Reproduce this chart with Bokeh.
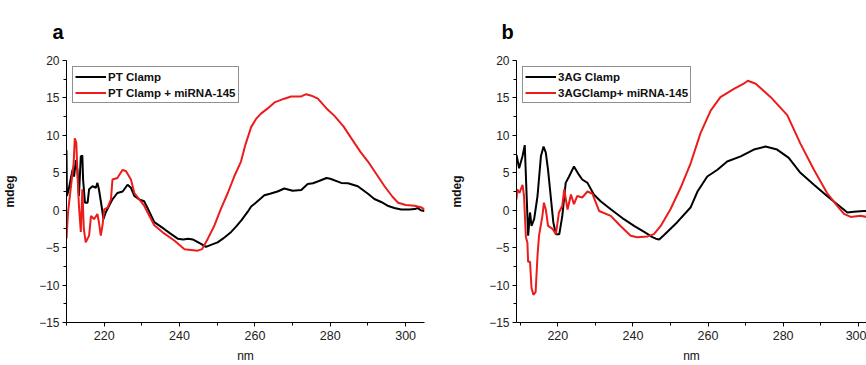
from bokeh.plotting import figure
from bokeh.layouts import row
from bokeh.models import Range1d, FixedTicker, Legend, LegendItem
from bokeh.embed import file_html
from bokeh.resources import INLINE

# ---------------- data ----------------
# Panel a
a_black_nm = [210.0, 210.1, 210.6, 211.6, 212.0, 212.5, 212.9, 213.3, 213.8, 214.2, 214.4, 214.9,
              215.6, 216.0, 216.9, 217.8, 218.2, 218.6, 219.3, 219.8, 220.4, 221.3, 222.2, 223.5,
              224.9, 226.2, 227.1, 228.0, 229.3, 230.6, 231.5, 233.3, 235.9, 237.5, 239.5, 241.0,
              242.3, 243.5, 245.7, 247.0, 248.5, 250.1, 251.5, 253.7, 255.0, 256.5, 258.1, 259.0,
              260.0, 261.6, 262.5, 264.0, 266.0, 267.8, 270.0, 272.3, 274.0, 275.4, 277.0, 279.0,
              280.0, 282.9, 284.7, 287.3, 290.0, 291.7, 293.5, 295.2, 297.0, 298.8, 301.0, 302.4,
              303.2, 304.0, 305.0]
a_black_v = [8.0, 1.9, 2.8, 5.4, 4.5, 6.7, 5.4, 1.9, 7.2, 7.3, 4.1, 1.0,
             1.0, 2.8, 3.2, 3.0, 3.65, 2.8, 0.6, -1.2, -0.3, 0.6, 1.45, 2.3,
             2.5, 3.4, 3.0, 1.9, 1.45, 1.2, 0.3, -1.6, -2.5, -3.1, -3.8, -3.9,
             -3.8, -3.9, -4.5, -4.9, -4.6, -4.3, -3.8, -2.9, -2.2, -1.3, -0.2, 0.5,
             0.9, 1.6, 2.0, 2.2, 2.5, 2.9, 2.6, 2.7, 3.5, 3.6, 3.9, 4.3,
             4.2, 3.65, 3.6, 3.2, 2.2, 1.5, 1.1, 0.6, 0.3, 0.1, 0.1, 0.15,
             0.3, 0.0, -0.1]

a_red_nm = [210.0, 210.4, 211.1, 211.9, 212.2, 212.6, 212.9, 213.3, 213.8, 214.2, 214.6, 215.1,
            216.0, 216.5, 217.3, 218.2, 218.6, 219.1, 219.6, 220.0, 220.9, 221.8, 222.2, 223.5,
            224.9, 225.8, 227.1, 228.0, 229.3, 230.6, 233.3, 235.9, 238.6, 241.3, 244.8, 246.0,
            247.5, 249.2, 251.0, 252.8, 254.5, 256.3, 257.5, 259.0, 260.3, 261.6, 263.4, 265.2,
            267.8, 269.6, 272.3, 273.6, 275.0, 276.7, 279.0, 281.1, 283.5, 285.6, 288.0, 290.0,
            292.0, 294.4, 296.5, 298.0, 300.0, 302.4, 304.0, 305.0]
a_red_v = [-3.8, -0.3, 2.8, 6.3, 9.6, 9.0, 5.0, 0.6, -2.9, 2.8, -2.5, -4.3,
           -3.4, -0.75, -1.2, -0.5, -1.6, -3.4, -1.85, 0.1, 0.35, 1.45, 4.1, 4.3,
           5.4, 5.2, 4.1, 2.3, 1.45, 0.6, -2.0, -3.1, -4.05, -5.2, -5.4, -5.2,
           -3.8, -2.1, 0.2, 2.3, 4.5, 6.5, 8.8, 11.1, 12.2, 12.9, 13.6, 14.4,
           14.9, 15.2, 15.2, 15.5, 15.3, 14.9, 13.6, 12.6, 11.2, 9.6, 7.8, 6.5,
           5.0, 3.2, 1.8, 1.0, 0.7, 0.6, 0.4, 0.1]

# Panel b
b_black_nm = [209.0, 209.7, 210.6, 211.2, 211.7, 212.1, 212.6, 213.0, 213.7, 214.6, 215.5, 216.2,
              216.8, 217.4, 218.1, 218.8, 219.5, 220.4, 221.2, 222.1, 223.0, 224.3, 225.6, 226.5,
              227.9, 229.6, 231.4, 234.1, 237.6, 240.3, 243.0, 245.2, 246.1, 247.0, 248.3, 251.8,
              255.4, 257.2, 259.8, 262.5, 265.1, 268.7, 272.2, 275.3, 278.4, 281.5, 284.6, 288.2,
              291.7, 294.4, 297.1, 298.8, 301.5, 303.0]
b_black_v = [7.4, 5.6, 7.2, 8.7, 1.9, -3.4, -0.3, -2.1, -1.2, 1.9, 7.2, 8.5,
             7.7, 5.4, 1.9, -1.6, -3.2, -3.2, -0.75, 3.65, 4.5, 5.85, 4.75, 4.1,
             3.65, 2.1, 1.2, 0.13, -1.2, -2.1, -2.9, -3.6, -3.8, -3.9, -3.3, -1.6,
             0.4, 2.5, 4.5, 5.4, 6.5, 7.2, 8.1, 8.5, 8.1, 7.0, 5.0, 3.4,
             1.9, 0.8, -0.3, -0.2, -0.1, -0.1]

b_red_nm = [209.0, 209.2, 209.8, 210.6, 211.0, 211.5, 211.9, 212.1, 212.6, 213.0, 213.5, 214.1,
            214.6, 215.0, 215.9, 216.3, 216.8, 217.4, 218.6, 219.5, 220.3, 221.2, 221.7, 222.6,
            223.5, 224.3, 225.2, 226.5, 227.9, 229.2, 231.0, 234.1, 236.7, 239.4, 241.2, 243.9,
            245.6, 247.4, 250.0, 252.7, 255.4, 258.0, 260.7, 263.3, 266.9, 269.5, 270.6, 272.7,
            276.7, 281.1, 284.6, 288.2, 291.7, 294.4, 296.2, 298.0, 300.6, 302.2]
b_red_v = [1.45, 2.8, 2.3, 3.4, 1.9, -3.6, -4.3, -6.9, -6.9, -10.4, -11.3, -10.9,
           -6.0, -3.4, -0.75, 1.0, 0.1, -2.1, -2.5, -3.2, -0.3, 0.6, 2.8, 0.1,
           2.1, 0.8, 1.9, 1.7, 2.5, 2.2, -0.1, -0.75, -2.1, -3.4, -3.6, -3.5,
           -3.2, -2.1, 0.13, 3.0, 6.3, 10.3, 13.3, 15.1, 16.2, 16.9, 17.3, 16.9,
           15.1, 12.7, 8.9, 5.4, 2.3, 0.57, -0.5, -0.9, -0.75, -0.9]

y_ticks = [-15, -10, -5, 0, 5, 10, 15, 20]
y_minor = [-12.5, -7.5, -2.5, 2.5, 7.5, 12.5, 17.5]
x_ticks = [220, 240, 260, 280, 300]
x_minor = [210, 230, 250, 270, 290]

FONT = "Liberation Sans"
RED = "#ec1c1c"


def make_panel(letter, letter_offset, x_range, width, border_left, border_right,
               ylabel_standoff, black_nm, black_v, red_nm, red_v, lab_black, lab_red):
    p = figure(width=width, height=365, output_backend="svg", toolbar_location=None,
               x_range=Range1d(*x_range), y_range=Range1d(-15, 20),
               min_border_left=border_left, min_border_right=border_right,
               min_border_top=59, min_border_bottom=41)
    p.outline_line_color = None
    p.xgrid.visible = False
    p.ygrid.visible = False
    p.background_fill_color = "white"
    p.border_fill_color = "white"

    p.title.text = letter
    p.title.text_font = FONT
    p.title.text_font_size = "20px"
    p.title.text_font_style = "bold"
    p.title.text_color = "black"
    p.title.align = "left"
    p.title.offset = letter_offset
    p.title.standoff = 36

    r1 = p.line(black_nm, black_v, line_color="black", line_width=2)
    r2 = p.line(red_nm, red_v, line_color=RED, line_width=2)

    for ax in (p.xaxis[0], p.yaxis[0]):
        ax.axis_line_color = "black"
        ax.axis_line_width = 1
        ax.major_tick_line_color = "black"
        ax.minor_tick_line_color = "black"
        ax.major_tick_in = 0
        ax.major_tick_out = 4
        ax.minor_tick_in = 0
        ax.minor_tick_out = 3
        ax.major_label_text_font = FONT
        ax.major_label_text_color = "#222222"
        ax.axis_label_text_font = FONT
        ax.axis_label_text_color = "#111111"
        ax.axis_label_text_font_size = "12px"

    p.yaxis[0].major_label_text_font_size = "12px"
    p.xaxis[0].major_label_text_font_size = "12.5px"
    p.yaxis[0].ticker = FixedTicker(ticks=y_ticks, minor_ticks=y_minor)
    p.xaxis[0].ticker = FixedTicker(ticks=x_ticks, minor_ticks=x_minor)
    p.yaxis[0].major_label_standoff = 3
    p.xaxis[0].major_label_standoff = 4

    p.yaxis[0].axis_label = "mdeg"
    p.yaxis[0].axis_label_text_font_style = "bold"
    p.yaxis[0].axis_label_standoff = ylabel_standoff

    p.xaxis[0].axis_label = "nm"
    p.xaxis[0].axis_label_text_font_style = "normal"
    p.xaxis[0].axis_label_standoff = 6

    legend = Legend(items=[LegendItem(label=lab_black, renderers=[r1]),
                           LegendItem(label=lab_red, renderers=[r2])],
                    location="top_left", orientation="vertical")
    legend.border_line_color = "#222222"
    legend.border_line_width = 1
    legend.background_fill_color = "white"
    legend.background_fill_alpha = 1
    legend.label_text_font = FONT
    legend.label_text_font_size = "11.5px"
    legend.label_text_font_style = "bold"
    legend.label_text_color = "#111111"
    legend.glyph_width = 31
    legend.glyph_height = 15
    legend.label_height = 15
    legend.label_standoff = 2
    legend.padding = 2
    legend.spacing = 1
    legend.margin = 6
    p.add_layout(legend, "center")
    return p


pa = make_panel("a", -14, (210, 305), 438, 66, 14, 19,
                a_black_nm, a_black_v, a_red_nm, a_red_v,
                "PT Clamp", "PT Clamp + miRNA-145")
pb = make_panel("b", -15, (209, 302.2), 428, 78, 0, 22,
                b_black_nm, b_black_v, b_red_nm, b_red_v,
                "3AG Clamp", "3AGClamp+ miRNA-145")

layout = row(pa, pb)
open("out.html", "w").write(file_html(layout, INLINE))
